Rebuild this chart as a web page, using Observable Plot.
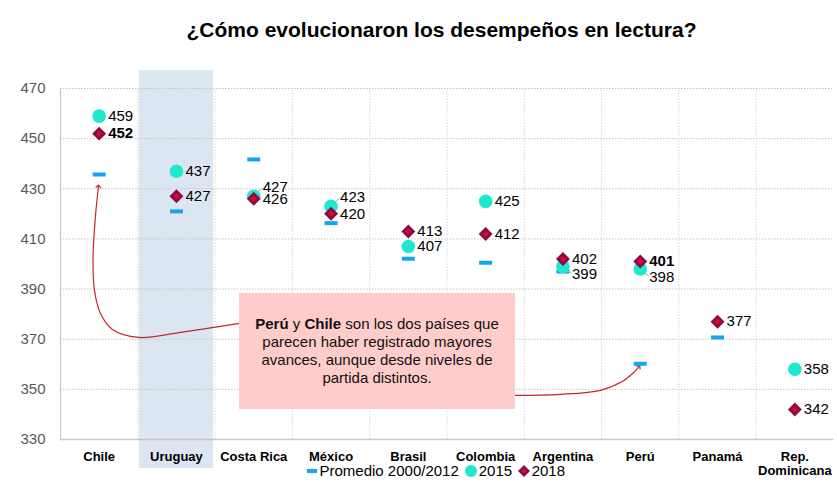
<!DOCTYPE html>
<html>
<head>
<meta charset="utf-8">
<script src="https://cdn.jsdelivr.net/npm/d3@7"></script>
<script src="https://cdn.jsdelivr.net/npm/@observablehq/plot@0.6"></script>
<style>
  body { margin: 0; background: #fff; }
  #wrap { position: relative; width: 837px; height: 495px; background: #fff; font-family: "Liberation Sans", Arial, sans-serif; overflow: hidden; }
  #title { position: absolute; top: 18px; left: 46px; width: 791px; text-align: center; font-weight: bold; font-size: 21px; color: #000; }
  #chart { position: absolute; top: 60px; left: 0; }
  #note { position: absolute; left: 239px; top: 293px; width: 276px; height: 116px; background: #ffcccc; display: flex; align-items: center; justify-content: center; text-align: center; font-size: 15px; line-height: 18px; color: #111; }
  #legend { position: absolute; left: 307px; top: 462px; height: 18px; display: flex; align-items: center; font-size: 15px; line-height: 18px; color: #000; white-space: nowrap; }
  #legend .dash { display: inline-block; width: 10px; height: 4px; background: #11a6f3; margin-right: 2.5px; }
  #legend .circ { display: inline-block; width: 12px; height: 12px; border-radius: 50%; background: #1ee8cf; margin: 0 2px 0 6px; }
  #legend svg { margin: 0 1.5px 0 6px; }
</style>
</head>
<body>
<div id="wrap">
  <div id="title">¿Cómo evolucionaron los desempeños en lectura?</div>
  <div id="chart"></div>
  <div id="note"><div><b>Perú</b> y <b>Chile</b> son los dos países que<br>parecen haber registrado mayores<br>avances, aunque desde niveles de<br>partida distintos.</div></div>
  <div id="legend"><span class="dash"></span><span>Promedio 2000/2012</span><span class="circ"></span><span>2015</span><svg width="12" height="12" viewBox="-6 -6 12 12"><path d="M0,-6L6,0L0,6L-6,0Z" fill="#8c0a4b"/><path d="M0,-2.6L2.6,0L0,2.6L-2.6,0Z" fill="#d0101e"/></svg><span>2018</span></div>
</div>
<script>
// ---- data ----
const categories = ["Chile", "Uruguay", "Costa Rica", "México", "Brasil", "Colombia", "Argentina", "Perú", "Panamá", "Rep.\nDominicana"];
const promedio2000_2012 = [435.7, 421, 441.7, 416.3, 402.1, 400.5, 397, 360.2, 370.7, null];
const scores2015 = [459, 437, 427, 423, 407, 425, 399, 398, null, 358];
const scores2018 = [452, 427, 426, 420, 413, 412, 402, 401, 377, 342];
const yTicks = [330, 350, 370, 390, 410, 430, 450, 470];
const highlighted = "Uruguay";
const boldLabels2018 = ["Chile", "Perú"];
// annotation arrow paths, in (category position, score) units
const arrowToChile = [[2.316, 376.3], [1.552, 372.7], [1.009, 370.7], [0.673, 373.9], [0.517, 380.3], [0.44, 389.5], [0.42, 401.5], [0.453, 419.4], [0.492, 431.0]];
const arrowToPeru = [[5.886, 347.6], [6.468, 348.0], [6.986, 349.6], [7.27, 353.2], [7.413, 356.7], [7.484, 359.1]];

// ---- derived ----
const idx = categories.map((_, i) => i);
const cx = i => i + 0.5;
const has = arr => idx.filter(i => arr[i] != null);
// nudge 2015 label away from 2018 label when they would overlap
const nudge = i => {
  const a = scores2015[i], b = scores2018[i];
  if (a == null || b == null || Math.abs(a - b) > 4) return 0;
  return a >= b ? 3.8 : -3.2;
};
const nudged = has(scores2015).filter(i => nudge(i) !== 0);

const dashSymbol = { draw(ctx) { ctx.rect(-6.5, -2, 13, 4); } };
const font = "Liberation Sans, Arial, sans-serif";

const chart = Plot.plot({
  width: 837,
  height: 435,
  marginTop: 28,
  marginBottom: 56,
  marginLeft: 60,
  marginRight: 4,
  x: { domain: [0, categories.length], axis: null },
  y: { domain: [330, 470], axis: null },
  style: { fontFamily: font, background: "transparent", overflow: "visible" },
  marks: [
    // highlight band
    Plot.rect([categories.indexOf(highlighted)], { x1: d => d, x2: d => d + 1, fill: "#dce6f2", insetTop: -18, insetBottom: -29, insetLeft: 1.5, insetRight: 1.5 }),
    // grid
    Plot.ruleY(yTicks.slice(1), { stroke: "#c4c4c4", strokeDasharray: "1.5,1.5", strokeWidth: 1 }),
    Plot.ruleX(idx.slice(1), { x: d => d, y1: 330, y2: 470, stroke: "#d8d8d8", strokeDasharray: "1.5,1.5", strokeWidth: 1 }),
    Plot.ruleX([0], { y1: 330, y2: 470, stroke: "#c8c8c8", strokeWidth: 1.2 }),
    Plot.ruleY([330], { stroke: "#c8c8c8", strokeWidth: 1.5 }),
    // axes
    Plot.axisY(yTicks, { tickSize: 0, tickPadding: 15, fontSize: 15, color: "#595959" }),
    Plot.axisX(idx.map(cx), { tickSize: 0, tickPadding: 11, tickFormat: d => categories[Math.floor(d)], fontSize: 13, fontWeight: "bold", lineHeight: 1.1, color: "#000" }),
    // annotation arrows
    Plot.line(arrowToChile, { curve: "catmull-rom", stroke: "#c0282d", strokeWidth: 1.2, markerEnd: "arrow" }),
    Plot.line(arrowToPeru, { curve: "catmull-rom", stroke: "#c0282d", strokeWidth: 1.2, markerEnd: "arrow" }),
    // promedio 2000/2012
    Plot.dot(has(promedio2000_2012), { x: cx, y: i => promedio2000_2012[i], symbol: dashSymbol, fill: "#11a6f3", r: 4 }),
    // 2015
    Plot.dot(has(scores2015), { x: cx, y: i => scores2015[i], r: 6.8, fill: "#1ee8cf" }),
    // 2018
    Plot.dot(has(scores2018), { x: cx, y: i => scores2018[i], symbol: "diamond2", r: 6.3, fill: "#8c0a4b" }),
    Plot.dot(has(scores2018), { x: cx, y: i => scores2018[i], symbol: "diamond2", r: 2.9, fill: "#d0101e" }),
    // leader lines for nudged labels
    Plot.link(nudged, { x1: i => cx(i) + 0.05, y1: i => scores2015[i] + Math.sign(nudge(i)) * 1.6, x2: i => cx(i) + 0.11, y2: i => scores2015[i] + nudge(i) * 0.85, stroke: "#a6a6a6", strokeWidth: 1 }),
    // labels
    Plot.text(has(scores2015), { x: cx, y: i => scores2015[i] + nudge(i), text: i => String(scores2015[i]), dx: 9, textAnchor: "start", fontSize: 15, fill: "#000" }),
    Plot.text(has(scores2018).filter(i => !boldLabels2018.includes(categories[i])), { x: cx, y: i => scores2018[i], text: i => String(scores2018[i]), dx: 9, textAnchor: "start", fontSize: 15, fill: "#000" }),
    Plot.text(has(scores2018).filter(i => boldLabels2018.includes(categories[i])), { x: cx, y: i => scores2018[i], text: i => String(scores2018[i]), dx: 9, textAnchor: "start", fontSize: 15, fontWeight: "bold", fill: "#000" })
  ]
});
document.getElementById("chart").appendChild(chart);
</script>
</body>
</html>
